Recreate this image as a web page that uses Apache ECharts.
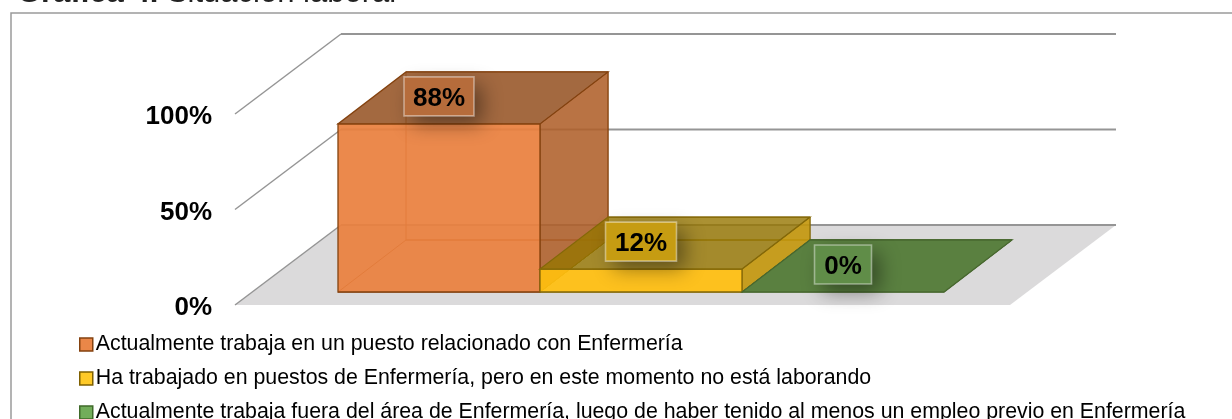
<!DOCTYPE html>
<html>
<head>
<meta charset="utf-8">
<style>
  html, body { margin: 0; padding: 0; background: #fff; }
  #chart { width: 1232px; height: 419px; }
</style>
<script src="https://cdn.jsdelivr.net/npm/echarts@6/dist/echarts.min.js"></script>
</head>
<body>
<div id="chart"></div>
<script>
const categories = ["Trabaja", "Ha trabajado", "Fuera"];
const seriesNames = [
  "Actualmente trabaja en un puesto relacionado con Enfermería",
  "Ha trabajado en puestos de Enfermería, pero en este momento no está laborando",
  "Actualmente trabaja fuera del área de Enfermería, luego de haber tenido al menos un empleo previo en Enfermería",
];
const seriesValues = [88, 12, 0];
const wallTicks = [0, 50, 100];

// look of each box, same order as seriesNames
const boxStyles = [
  { front: "rgba(233,128,62,0.93)", top: "rgba(150,84,38,0.88)", right: "rgba(175,96,42,0.88)", edge: "#84420f", labelFill: "#b66c3b", labelW: 70, legend: "#ea8748", legendEdge: "#84420f" },
  { front: "rgba(255,190,15,0.93)", top: "rgba(150,118,0,0.8)", right: "rgba(195,150,10,0.9)", edge: "#846808", labelFill: "#c69c12", labelW: 71, legend: "#ffca28", legendEdge: "#7f6000" },
  { front: "rgba(90,128,64,1)", top: "rgba(90,128,64,1)", right: "rgba(90,128,64,1)", edge: "#48682f", labelFill: "#608d48", labelW: 57, legend: "#72ad5a", legendEdge: "#3f6a2a" },
];

// fake perspective, in pixels, from the axis plane
const WALL_DX = 106, WALL_DY = -80;
const BAR_NEAR = [17, -13], BAR_FAR = [85, -65];
const FLOOR_PAD_LEFT = 86, FLOOR_PAD_RIGHT = 83;
const GRID = { left: 321, top: 114, width: 606, height: 191 };

function poly(points, fill, stroke, width) {
  return {
    type: "polygon",
    shape: { points },
    style: { fill, stroke: stroke || null, lineWidth: width || 0 },
  };
}

function renderWall(params, api) {
  const y = api.coord([0, api.value(0)])[1];
  const x0 = GRID.left - FLOOR_PAD_LEFT;
  const x1 = GRID.left + GRID.width + FLOOR_PAD_RIGHT;
  const children = [];
  if (api.value(0) === 0) {
    children.push(poly([[x0, y], [x1, y], [x1 + WALL_DX, y + WALL_DY], [x0 + WALL_DX, y + WALL_DY]], "#dbdadb"));
  }
  children.push({
    type: "polyline",
    shape: { points: [[x0, y], [x0 + WALL_DX, y + WALL_DY]] },
    style: { fill: null, stroke: "#959595", lineWidth: 1.5 },
  });
  children.push({
    type: "polyline",
    shape: { points: [[x0 + WALL_DX, y + WALL_DY], [x1 + WALL_DX, y + WALL_DY]] },
    style: { fill: null, stroke: "#959595", lineWidth: 2 },
  });
  return { type: "group", children };
}

function makeBoxRenderer(s) {
  return function (params, api) {
    const base = api.coord([api.value(0), 0]);
    const top = api.coord([api.value(0), api.value(1)]);
    const band = api.size([1, 0])[0];
    const xl = base[0] - band / 2 + BAR_NEAR[0];
    const xr = base[0] + band / 2 + BAR_NEAR[0];
    const yb = base[1] + BAR_NEAR[1];
    const yt = top[1] + BAR_NEAR[1];
    const dx = BAR_FAR[0] - BAR_NEAR[0];
    const dy = BAR_FAR[1] - BAR_NEAR[1];
    const cx = (xl + xr) / 2;
    const ly = yt - 27.5;
    const h = 39;

    const children = [
      // hidden faces, they only show through the front ones
      poly([[xl, yb], [xr, yb], [xr + dx, yb + dy], [xl + dx, yb + dy]], "rgba(0,0,0,0)", s.edge, 1),
      poly([[xl + dx, yb + dy], [xr + dx, yb + dy], [xr + dx, yt + dy], [xl + dx, yt + dy]], "rgba(0,0,0,0)", s.edge, 1),
    ];
    if (api.value(1) > 0) {
      children.push(poly([[xr, yb], [xr + dx, yb + dy], [xr + dx, yt + dy], [xr, yt]], s.right, s.edge, 1));
      children.push(poly([[xl, yb], [xr, yb], [xr, yt], [xl, yt]], s.front, s.edge, 1.3));
    }
    children.push(poly([[xl, yt], [xr, yt], [xr + dx, yt + dy], [xl + dx, yt + dy]], s.top, s.edge, 1.3));

    // shadow only: the casting rect sits off screen
    children.push({
      type: "rect",
      shape: { x: cx - s.labelW / 2 - 3000, y: ly - h / 2, width: s.labelW, height: h },
      style: { fill: "#000", shadowColor: "rgba(0,0,0,0.42)", shadowBlur: 20, shadowOffsetX: 3008, shadowOffsetY: 8 },
    });
    children.push({
      type: "rect",
      shape: { x: cx - s.labelW / 2, y: ly - h / 2, width: s.labelW, height: h },
      style: { fill: s.labelFill, stroke: "rgba(255,255,255,0.42)", lineWidth: 1.6 },
    });
    children.push({
      type: "text",
      style: {
        x: cx, y: ly + 2, text: api.value(1) + "%",
        fill: "#000", align: "center", verticalAlign: "middle",
        font: "bold 26px 'Liberation Sans', Arial, sans-serif",
      },
    });
    return { type: "group", children };
  };
}

const chart = echarts.init(document.getElementById("chart"), null, { renderer: "canvas" });

chart.setOption({
  animation: false,
  backgroundColor: "#fff",
  graphic: [
    {
      type: "polyline",
      silent: true,
      shape: { points: [[1232, 13], [11, 13], [11, 419]] },
      style: { fill: null, stroke: "#9a9a9a", lineWidth: 1.5 },
    },
    {
      type: "text",
      silent: true,
      x: 17,
      y: 8.5,
      style: {
        text: "{b|Gráfica 4. }{n|Situación laboral}",
        verticalAlign: "bottom",
        rich: {
          b: { fontFamily: "Liberation Sans", fontWeight: "bold", fontSize: 31, fill: "#222" },
          n: { fontFamily: "Liberation Sans", fontSize: 31, fill: "#222" },
        },
      },
    },
  ],
  grid: GRID,
  xAxis: { type: "category", data: categories, show: false },
  yAxis: {
    type: "value",
    min: 0,
    max: 100,
    interval: 50,
    axisLine: { show: false },
    axisTick: { show: false },
    splitLine: { show: false },
    axisLabel: {
      formatter: "{v|{value}%}",
      margin: 109,
      rich: {
        v: {
          color: "#000",
          fontFamily: "Liberation Sans",
          fontWeight: "bold",
          fontSize: 26,
          padding: [6, 0, 0, 0],
        },
      },
    },
  },
  legend: {
    orient: "vertical",
    left: 79,
    top: 334,
    height: 130,
    padding: 0,
    itemGap: 13,
    itemWidth: 13,
    itemHeight: 13,
    selectedMode: false,
    align: "left",
    textStyle: { fontFamily: "Liberation Sans", fontSize: 21.33, color: "#000", padding: [0, 0, 0, -2] },
    data: seriesNames.map((name, i) => ({
      name,
      icon: "rect",
      itemStyle: { color: boxStyles[i].legend, borderColor: boxStyles[i].legendEdge, borderWidth: 1.5 },
    })),
  },
  series: [
    {
      type: "custom",
      name: "pared",
      silent: true,
      z: 1,
      data: wallTicks.map((t) => [t]),
      encode: { y: 0 },
      renderItem: renderWall,
    },
    ...seriesNames.map((name, i) => ({
      type: "custom",
      name,
      silent: true,
      z: 2 + i,
      itemStyle: { color: boxStyles[i].legend },
      data: [[i, seriesValues[i]]],
      encode: { x: 0, y: 1 },
      renderItem: makeBoxRenderer(boxStyles[i]),
    })),
  ],
});
</script>
</body>
</html>
